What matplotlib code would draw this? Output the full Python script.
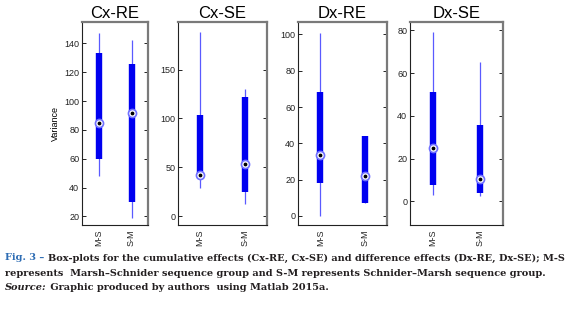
import matplotlib
matplotlib.use("Agg")
from matplotlib import pyplot as plt

# group labels and panel titles
groups = ["M-S", "S-M"]
titles = ["Cx-RE", "Cx-SE", "Dx-RE", "Dx-SE"]

# box-plot summaries: [M-S, S-M]
whis_lo = [[48, 19], [29, 12], [0, 7], [3, 2.5]]
q1 = [[60, 30], [40, 24.5], [18, 7.3], [7.5, 4]]
med = [[85, 91.5], [42.5, 53.5], [33.5, 22], [25, 10.5]]
q3 = [[133, 125.5], [104, 121.5], [68, 44], [51, 35.5]]
whis_hi = [[147, 142], [188, 130], [101, 44], [79, 65]]

# axis ranges and ticks
ylims = [(14, 155), (-9, 199), (-5, 107), (-11, 84)]
yticks = [range(20, 141, 20), range(0, 151, 50), range(0, 101, 20), range(0, 81, 20)]

# axes boxes in pixels (left, width)
boxes = [(82, 66), (178, 89), (298, 89), (410, 93)]

W, H = 575, 310
fig = plt.figure(figsize=(W / 100, H / 100), dpi=100)
plt.rcParams['font.family'] = ['Liberation Sans', 'DejaVu Sans']

top, bottom = 21.7, 225
pos = [1, 2]
for i in range(4):
    x0, w = boxes[i]
    ax = fig.add_axes([x0 / W, (H - bottom) / H, w / W, (bottom - top) / H])
    ax.vlines(pos, whis_lo[i], whis_hi[i], color="#5a5aff", lw=0.9, zorder=2)
    ax.vlines(pos, q1[i], q3[i], color="#0000f0", lw=4.6, zorder=3)
    ax.scatter(pos, med[i], s=34, facecolor="white", edgecolor="#7070ff", lw=1.2, zorder=4)
    ax.scatter(pos, med[i], s=3, color="black", zorder=5)
    ax.set_xlim(0.5, 2.5)
    ax.set_ylim(*ylims[i])
    ax.set_yticks(list(yticks[i]))
    ax.set_xticks(pos)
    ax.set_xticklabels(groups, rotation=90, fontsize=6.5, color="#222222")
    ax.tick_params(axis="y", direction="in", right=True, length=3, width=0.6,
                   labelsize=6.5, labelcolor="#222222", pad=2)
    ax.tick_params(axis="x", length=0, pad=3)
    ax.set_title(titles[i], fontsize=12, pad=3)
    for s in ["left", "bottom"]:
        ax.spines[s].set_color("#222222")
        ax.spines[s].set_linewidth(0.8)
    for s in ["top", "right"]:
        ax.spines[s].set_color("#7a7a7a")
        ax.spines[s].set_linewidth(1.6)
    if i == 0:
        ax.set_ylabel("Variance", fontsize=6.5, labelpad=3)

# caption
fig.canvas.draw()
rend = fig.canvas.get_renderer()
cap = dict(family="DejaVu Serif", fontweight="bold", fontsize=7.0, va="center")
dark = "#231f20"


def put(x, y, s, **kw):
    t = fig.text(x / W, 1 - y / H, s, **cap, **kw)
    bb = t.get_window_extent(rend)
    return x + bb.width


x = put(5, 258, "Fig. 3 \u2013 ", color="#2e6db4")
put(x, 258, "Box-plots for the cumulative effects (Cx-RE, Cx-SE) and difference effects "
    "(Dx-RE, Dx-SE); M-S", color=dark)
put(5, 273, "represents  Marsh\u2013Schnider sequence group and S-M represents "
    "Schnider\u2013Marsh sequence group.", color=dark)
x = put(5, 288, "Source:", color=dark, style="italic")
put(x, 288, " Graphic produced by authors  using Matlab 2015a.", color=dark)

fig.savefig("out.png", dpi=100)
